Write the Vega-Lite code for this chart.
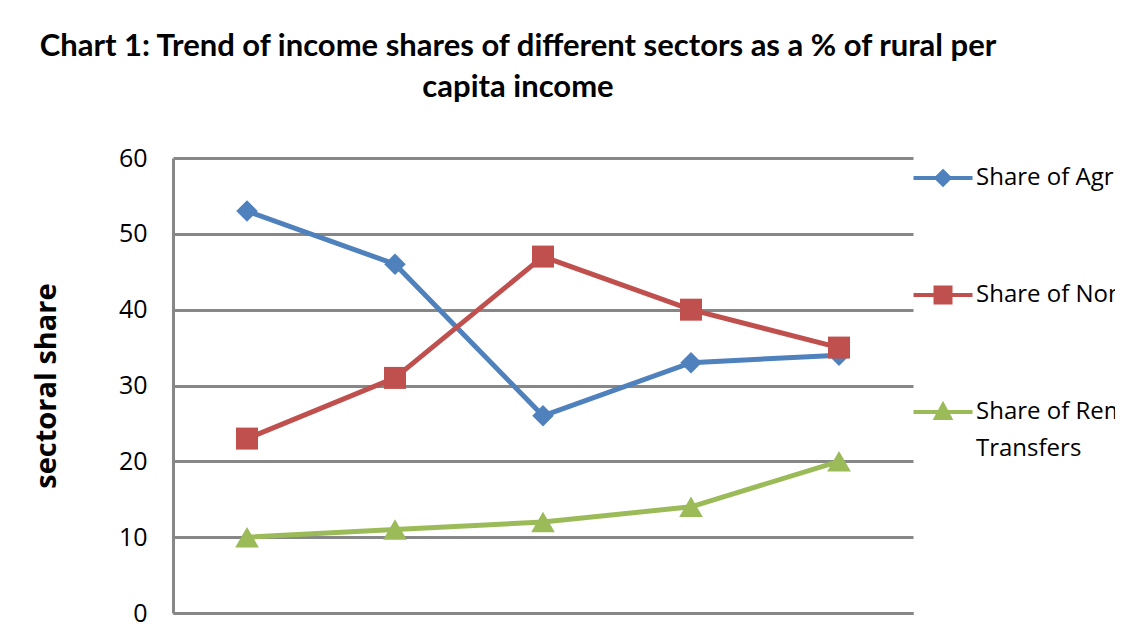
{
  "$schema": "https://vega.github.io/schema/vega-lite/v6.json",
  "width": 740,
  "height": 455,
  "autosize": {"type": "none"},
  "padding": {"left": 173, "top": 158, "right": 202, "bottom": 23},
  "background": "white",
  "title": {
    "text": ["Chart 1: Trend of income shares of different sectors as a % of rural per", "capita income"],
    "font": "Lato",
    "fontWeight": "bold",
    "fontSize": 31,
    "color": "black",
    "anchor": "middle",
    "baseline": "bottom",
    "lineHeight": 41,
    "offset": 11,
    "dx": -25
  },
  "data": {
    "values": [
      {"period": "P1", "series": "Share of Agriculture", "share": 53},
      {"period": "P2", "series": "Share of Agriculture", "share": 46},
      {"period": "P3", "series": "Share of Agriculture", "share": 26},
      {"period": "P4", "series": "Share of Agriculture", "share": 33},
      {"period": "P5", "series": "Share of Agriculture", "share": 34},
      {"period": "P1", "series": "Share of Non-farm", "share": 23},
      {"period": "P2", "series": "Share of Non-farm", "share": 31},
      {"period": "P3", "series": "Share of Non-farm", "share": 47},
      {"period": "P4", "series": "Share of Non-farm", "share": 40},
      {"period": "P5", "series": "Share of Non-farm", "share": 35},
      {"period": "P1", "series": "Share of Remittances and Transfers", "share": 10},
      {"period": "P2", "series": "Share of Remittances and Transfers", "share": 11},
      {"period": "P3", "series": "Share of Remittances and Transfers", "share": 12},
      {"period": "P4", "series": "Share of Remittances and Transfers", "share": 14},
      {"period": "P5", "series": "Share of Remittances and Transfers", "share": 20}
    ]
  },
  "encoding": {
    "x": {
      "field": "period",
      "type": "ordinal",
      "sort": null,
      "scale": {"type": "point", "padding": 0.5},
      "axis": {"title": null, "labels": false, "ticks": false, "domainColor": "#878787", "domainWidth": 3, "grid": false}
    },
    "y": {
      "field": "share",
      "type": "quantitative",
      "scale": {"domain": [0, 60], "nice": false},
      "axis": {
        "title": "sectoral share",
        "values": [0, 10, 20, 30, 40, 50, 60],
        "ticks": false,
        "domainColor": "#878787",
        "domainWidth": 3,
        "gridColor": "#878787",
        "gridWidth": 3,
        "labelFont": "Open Sans",
        "labelFontSize": 25,
        "labelColor": "black",
        "labelPadding": 26,
        "titleFont": "Open Sans",
        "titleFontWeight": "bold",
        "titleFontSize": 29,
        "titleColor": "black",
        "titlePadding": 57
      }
    }
  },
  "layer": [
    {
      "mark": {"type": "line", "strokeWidth": 5},
      "encoding": {
        "color": {
          "field": "series",
          "type": "nominal",
          "sort": null,
          "scale": {
            "domain": ["Share of Agriculture", "Share of Non-farm", "Share of Remittances and Transfers"],
            "range": ["#4F81BD", "#C0504D", "#9BBB59"]
          },
          "legend": null
        }
      }
    },
    {
      "transform": [{"filter": "datum.series == 'Share of Agriculture'"}],
      "mark": {"type": "point", "filled": true, "size": 460, "opacity": 1, "shape": "diamond", "color": "#4F81BD"}
    },
    {
      "transform": [{"filter": "datum.series == 'Share of Non-farm'"}],
      "mark": {"type": "point", "filled": true, "size": 484, "opacity": 1, "shape": "square", "color": "#C0504D"}
    },
    {
      "transform": [{"filter": "datum.series == 'Share of Remittances and Transfers'"}],
      "mark": {"type": "point", "filled": true, "size": 560, "opacity": 1, "shape": "triangle-up", "color": "#9BBB59"}
    },
    {
      "mark": {"type": "point", "size": 400, "opacity": 0},
      "encoding": {
        "fill": {
          "field": "series",
          "type": "nominal",
          "sort": null,
          "scale": {
            "domain": ["Share of Agriculture", "Share of Non-farm", "Share of Remittances and Transfers"],
            "range": ["#4F81BD", "#C0504D", "#9BBB59"]
          },
          "legend": {
            "title": null, "orient": "none", "legendX": 758, "legendY": 8, "padding": 0,
            "symbolSize": 400, "symbolStrokeWidth": 4, "symbolOpacity": 1,
            "labelFont": "Open Sans", "labelFontSize": 24, "labelColor": "black", "labelOffset": 21, "labelLimit": 1000, "rowPadding": 86,
            "labelExpr": "datum.value == 'Share of Remittances and Transfers' ? ['Share of Remittances and', 'Transfers'] : datum.label",
            "encode": {"labels": {"update": {"lineHeight": {"value": 37}}}}
          }
        },
        "stroke": {
          "field": "series",
          "type": "nominal",
          "sort": null,
          "scale": {
            "domain": ["Share of Agriculture", "Share of Non-farm", "Share of Remittances and Transfers"],
            "range": ["#4F81BD", "#C0504D", "#9BBB59"]
          },
          "legend": {
            "title": null, "orient": "none", "legendX": 758, "legendY": 8, "padding": 0,
            "symbolSize": 400, "symbolStrokeWidth": 4, "symbolOpacity": 1,
            "labelFont": "Open Sans", "labelFontSize": 24, "labelColor": "black", "labelOffset": 21, "labelLimit": 1000, "rowPadding": 86,
            "labelExpr": "datum.value == 'Share of Remittances and Transfers' ? ['Share of Remittances and', 'Transfers'] : datum.label",
            "encode": {"labels": {"update": {"lineHeight": {"value": 37}}}}
          }
        },
        "shape": {
          "field": "series",
          "type": "nominal",
          "sort": null,
          "scale": {
            "domain": ["Share of Agriculture", "Share of Non-farm", "Share of Remittances and Transfers"],
            "range": [
              "M-2.95,0H2.95M0,-0.65L0.65,0L0,0.65L-0.65,0Z",
              "M-2.95,0H2.95M-0.75,-0.75H0.75V0.75H-0.75Z",
              "M-2.95,0H2.95M0,-0.7L0.7,0.6H-0.7Z"
            ]
          },
          "legend": {
            "title": null, "orient": "none", "legendX": 758, "legendY": 8, "padding": 0,
            "symbolSize": 400, "symbolStrokeWidth": 4, "symbolOpacity": 1,
            "labelFont": "Open Sans", "labelFontSize": 24, "labelColor": "black", "labelOffset": 21, "labelLimit": 1000, "rowPadding": 86,
            "labelExpr": "datum.value == 'Share of Remittances and Transfers' ? ['Share of Remittances and', 'Transfers'] : datum.label",
            "encode": {"labels": {"update": {"lineHeight": {"value": 37}}}}
          }
        }
      }
    }
  ],
  "resolve": {"scale": {"shape": "independent", "fill": "independent", "stroke": "independent"}},
  "config": {"view": {"stroke": null}}
}
